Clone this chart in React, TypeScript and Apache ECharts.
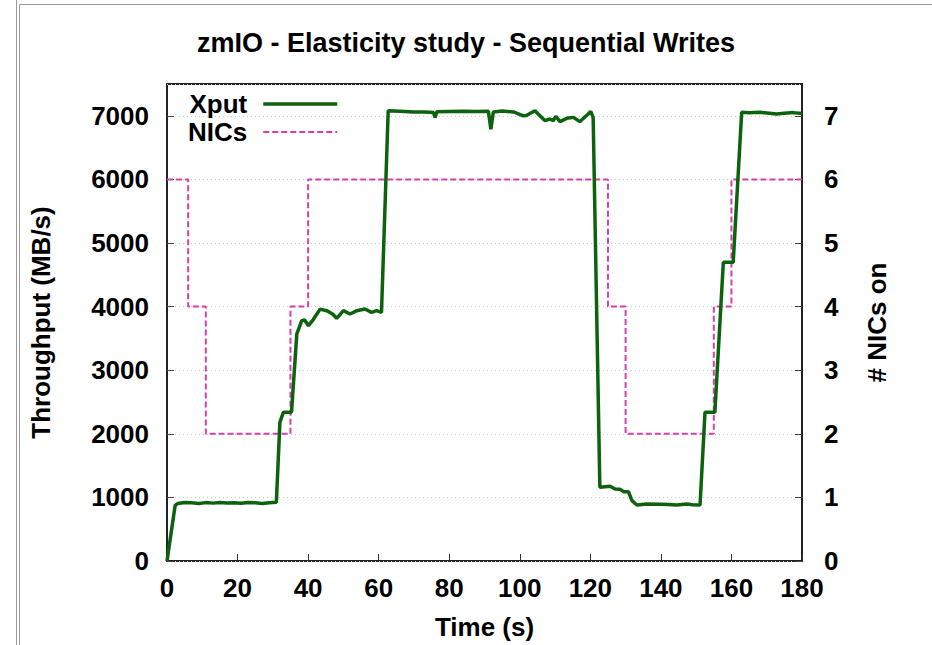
import React, { useEffect, useRef } from "react";
import * as echarts from "echarts";

const titleText = "zmIO - Elasticity study - Sequential Writes";

const xputTimes = [
  0, 2.3, 3, 5, 7, 9, 11, 13, 15, 17, 19, 21, 23, 25, 27, 29, 31, 32, 33, 35.3,
  36.8, 38.2, 39, 40.1, 41.5, 43.4, 45.5, 47, 48.1, 50, 51.9, 53.8, 56.1, 58, 59.4, 60.8,
  62.7, 66, 70, 73, 75.5, 76, 76.5, 80, 84, 88, 91.1, 91.8, 92.5, 95, 98.2, 101, 101.9,
  103, 104.3, 105.2, 107.1, 108.5, 109.5, 110.2, 111.4, 113.3, 115.2, 117.1, 118, 119.4,
  120.1, 120.8, 122.7, 125.6, 127, 128.4, 129.4, 130.8, 131.8, 133.2, 136, 139.8, 142,
  144.5, 147.3, 149, 151.1, 152.5, 155.3, 157.7, 160.5, 162.9, 165, 168.1, 170, 172.8,
  175, 177.5, 180,
];
const xputValues = [
  0, 870, 905, 920, 915, 905, 918, 910, 920, 912, 915, 908, 918, 915, 905, 915, 922, 2180, 2340, 2340,
  3570, 3780, 3790, 3700, 3800, 3960, 3930, 3880, 3816, 3936, 3884, 3936, 3962, 3910, 3936, 3910,
  7080, 7072, 7060, 7058, 7050, 6975, 7065, 7068, 7070, 7068, 7070, 6790, 7060, 7075, 7060, 7000, 7005,
  7040, 7080, 7030, 6925, 6950, 6924, 6990, 6908, 6960, 6975, 6908, 6960, 7029,
  7070, 6976, 1160, 1174, 1132, 1130, 1090, 1090, 950, 880, 897, 893, 888,
  881, 895, 885, 881, 2338, 2338, 4696, 4696, 7055, 7048, 7055, 7045, 7030,
  7040, 7050, 7035,
];

const nicTimes = [0, 6, 11, 35, 40, 125, 130, 155, 160, 180];
const nicCounts = [6, 4, 2, 4, 6, 4, 2, 4, 6, 6];

const xTickValues = [0, 20, 40, 60, 80, 100, 120, 140, 160, 180];
const yLeftTicks = [0, 1000, 2000, 3000, 4000, 5000, 6000, 7000];
const yRightTicks = [0, 1, 2, 3, 4, 5, 6, 7];

const FONT = "'Liberation Sans', Arial, Helvetica, sans-serif";
const FS = 26;
const XPUT_COLOR = "#0d630d";
const NIC_COLOR = "#d63fae";

export default function App() {
  const ref = useRef<HTMLDivElement>(null);

  useEffect(() => {
    if (!ref.current) return;
    const chart = echarts.init(ref.current, undefined, { renderer: "svg" });

    const xputData = xputTimes.map((t, i) => [t, xputValues[i]]);
    const nicData = nicTimes.map((t, i) => [t, nicCounts[i]]);

    const labelStyle = {
      fontFamily: FONT,
      fontSize: FS,
      fontWeight: "bold" as const,
      color: "#000",
    };

    chart.setOption({
      animation: false,
      backgroundColor: "#fff",
      title: {
        text: titleText,
        left: "center",
        top: 29,
        padding: 0,
        textStyle: { ...labelStyle, fontSize: 27 },
      },
      legend: {
        orient: "vertical",
        left: 188,
        top: 91,
        padding: 0,
        align: "right",
        itemWidth: 74,
        itemHeight: 14,
        itemGap: 2,
        itemStyle: { opacity: 0 },
        textStyle: { ...labelStyle, lineHeight: 25, padding: [0, 11, 0, 0] },
        data: [
          { name: "Xput", lineStyle: { width: 3.5, color: XPUT_COLOR, type: "solid" } },
          { name: "NICs", lineStyle: { width: 2, color: NIC_COLOR, type: [6, 3] } },
        ],
      },
      grid: {
        left: 167,
        right: 130,
        top: 84,
        bottom: 83,
        show: true,
        borderColor: "#222",
        borderWidth: 2,
        backgroundColor: "transparent",
        containLabel: false,
      },
      xAxis: {
        type: "value",
        min: 0,
        max: 180,
        interval: 20,
        name: "Time (s)",
        nameLocation: "middle",
        nameGap: 53,
        nameTextStyle: labelStyle,
        axisLine: { show: false },
        axisTick: { show: true, inside: true, length: 7, lineStyle: { color: "#333", width: 1 } },
        axisLabel: {
          ...labelStyle,
          margin: 14,
          customValues: xTickValues,
        },
        splitLine: { show: false },
      },
      yAxis: [
        {
          type: "value",
          min: 0,
          max: 7500,
          interval: 1000,
          position: "left",
          name: "Throughput (MB/s)",
          nameLocation: "middle",
          nameRotate: 90,
          nameGap: 113,
          nameTextStyle: labelStyle,
          axisLine: { show: false },
          axisTick: { show: true, inside: true, length: 7, lineStyle: { color: "#444", width: 1 } },
          axisLabel: { ...labelStyle, margin: 18, showMaxLabel: false, formatter: (v: number) => (yLeftTicks.includes(v) ? String(v) : "") },
          splitLine: { show: true, lineStyle: { color: "#c8c8c8", type: [1, 3], width: 1 } },
        },
        {
          type: "value",
          min: 0,
          max: 7.5,
          interval: 1,
          position: "right",
          name: "# NICs on",
          nameLocation: "middle",
          nameRotate: 90,
          nameGap: 62,
          nameTextStyle: labelStyle,
          axisLine: { show: false },
          axisTick: { show: true, inside: true, length: 7, lineStyle: { color: "#444", width: 1 } },
          axisLabel: { ...labelStyle, margin: 22, showMaxLabel: false, formatter: (v: number) => (yRightTicks.includes(v) ? String(v) : "") },
          splitLine: { show: false },
        },
      ],
      series: [
        {
          name: "NICs",
          type: "line",
          yAxisIndex: 1,
          step: "end",
          data: nicData,
          symbol: "none",
          lineStyle: { color: NIC_COLOR, width: 2, type: [6, 3] },
          itemStyle: { color: NIC_COLOR },
          z: 2,
        },
        {
          name: "Xput",
          type: "line",
          yAxisIndex: 0,
          data: xputData,
          symbol: "none",
          lineStyle: { color: XPUT_COLOR, width: 3.5 },
          itemStyle: { color: XPUT_COLOR },
          z: 3,
        },
      ],
      graphic: [
        { type: "line", shape: { x1: 16.5, y1: 0, x2: 16.5, y2: 645 }, style: { stroke: "#9a9a9a", lineWidth: 1 } },
        { type: "line", shape: { x1: 19.5, y1: 4.5, x2: 19.5, y2: 645 }, style: { stroke: "#9a9a9a", lineWidth: 1 } },
        { type: "line", shape: { x1: 19.5, y1: 4.5, x2: 932, y2: 4.5 }, style: { stroke: "#9a9a9a", lineWidth: 1 } },
      ],
    });

    return () => chart.dispose();
  }, []);

  return (
    <div
      ref={ref}
      style={{ position: "absolute", left: 0, top: 0, width: 932, height: 645, background: "#fff" }}
    />
  );
}
